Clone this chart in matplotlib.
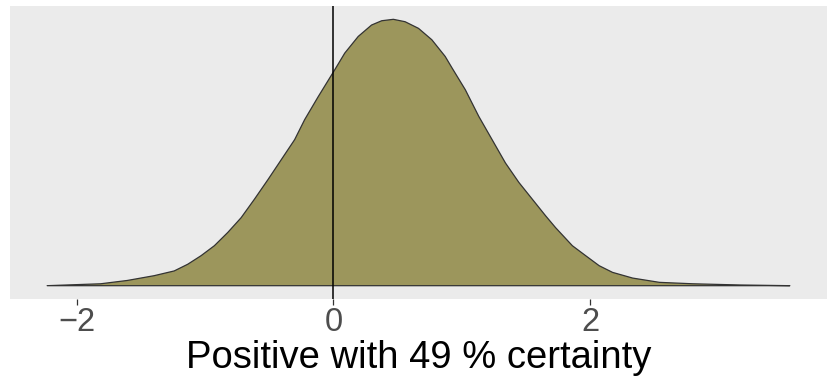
import matplotlib
matplotlib.use("Agg")
import matplotlib.pyplot as plt

# density curve
x_vals = [-2.233, -1.816, -1.607, -1.399, -1.242, -1.137, -1.033, -0.929,
          -0.824, -0.720, -0.616, -0.511, -0.407, -0.303, -0.225, -0.120,
          0.010, 0.088, 0.193, 0.297, 0.376, 0.467, 0.558, 0.663, 0.767,
          0.871, 0.924, 1.028, 1.133, 1.237, 1.341, 1.446, 1.550, 1.654,
          1.732, 1.863, 1.967, 2.072, 2.176, 2.333, 2.542, 2.802, 3.168,
          3.559]
dens = [0.0, 0.004, 0.011, 0.021, 0.031, 0.045, 0.063, 0.084,
        0.112, 0.143, 0.182, 0.223, 0.265, 0.307, 0.349, 0.397,
        0.454, 0.489, 0.524, 0.548, 0.557, 0.560, 0.555, 0.541, 0.517,
        0.482, 0.458, 0.412, 0.356, 0.307, 0.258, 0.217, 0.182, 0.147,
        0.122, 0.084, 0.063, 0.042, 0.028, 0.016, 0.007, 0.004, 0.0015,
        0.0]
ref_line = 0
x_ticks = [-2, 0, 2]
x_label = "Positive with 49 % certainty"

plt.rcParams['font.family'] = ['Liberation Sans', 'DejaVu Sans']

fig = plt.figure(figsize=(8.3, 3.8), dpi=100)
ax = fig.add_axes([10/830, 1 - 299/380, 817/830, 293/380])
ax.set_facecolor('#EBEBEB')

ax.fill(x_vals + [x_vals[-1], x_vals[0]], dens + [0, 0],
        facecolor='#9C965C', edgecolor='#333333', linewidth=0.9,
        joinstyle='round')
ax.axvline(ref_line, color='black', linewidth=1.1)

span = x_vals[-1] - x_vals[0]
ax.set_xlim(x_vals[0] - 0.05*span, x_vals[-1] + 0.05*span)
top = max(dens)
ax.set_ylim(-0.05*top, 1.05*top)

for s in ax.spines.values():
    s.set_visible(False)
ax.set_yticks([])
ax.set_xticks(x_ticks)
ax.set_xticklabels(['\u22122', '0', '2'])
ax.tick_params(axis='x', length=4, width=0.9, color='#333333',
               labelsize=23.5, labelcolor='#4D4D4D', pad=2)
ax.set_xlabel(x_label, fontsize=27.5, color='black', labelpad=1)

fig.savefig('out.png', dpi=100)
